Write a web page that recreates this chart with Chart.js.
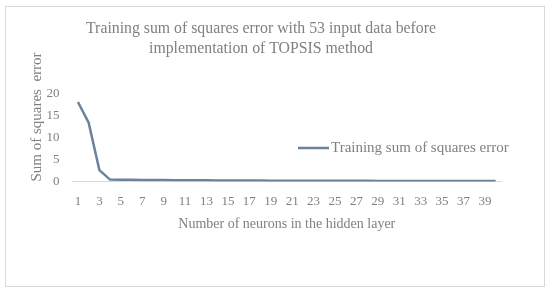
<!DOCTYPE html>
<html>
<head>
<meta charset="utf-8">
<script src="https://cdn.jsdelivr.net/npm/chart.js@4.4.1/dist/chart.umd.min.js"></script>
<style>
html,body{margin:0;padding:0;background:#fff;}
#wrap{position:relative;width:550px;height:292px;}
canvas{display:block;}
</style>
</head>
<body>
<div id="wrap"><canvas id="c" width="550" height="292"></canvas></div>
<script>
const categories = Array.from({length: 40}, (_, i) => String(i + 1));
const sseValues = [18.0, 13.3, 2.6, 0.45, 0.42, 0.40, 0.38, 0.36, 0.34, 0.32,
                   0.30, 0.29, 0.28, 0.27, 0.26, 0.25, 0.24, 0.23, 0.22, 0.21,
                   0.20, 0.20, 0.19, 0.19, 0.18, 0.18, 0.17, 0.17, 0.16, 0.16,
                   0.15, 0.15, 0.15, 0.14, 0.14, 0.14, 0.13, 0.13, 0.13, 0.12];
const yTicks = [0, 5, 10, 15, 20];
const titleLines = ['Training sum of squares error with 53 input data before', 'implementation of TOPSIS method'];
const seriesLabel = 'Training sum of squares error';

const TXT = '#808080';
const LINE = '#6c829a';
const FONT = '"Liberation Serif", "Times New Roman", serif';

const framePlugin = {
  id: 'frame',
  beforeDraw(chart) {
    const ctx = chart.ctx;
    ctx.save();
    ctx.fillStyle = '#fff';
    ctx.fillRect(0, 0, chart.width, chart.height);
    ctx.strokeStyle = '#d9d9d9';
    ctx.lineWidth = 1;
    ctx.strokeRect(5.5, 6.5, 539, 280);
    ctx.restore();
  }
};

const legendPlugin = {
  id: 'sideLegend',
  afterDraw(chart) {
    const ctx = chart.ctx;
    const ds = chart.data.datasets[0];
    const y = 148;
    ctx.save();
    ctx.strokeStyle = ds.borderColor;
    ctx.lineWidth = 2.5;
    ctx.beginPath();
    ctx.moveTo(298, y);
    ctx.lineTo(329, y);
    ctx.stroke();
    ctx.fillStyle = TXT;
    ctx.font = '15px ' + FONT;
    ctx.textBaseline = 'middle';
    ctx.textAlign = 'left';
    ctx.fillText(ds.label, 331, y);
    ctx.restore();
  }
};

new Chart(document.getElementById('c'), {
  type: 'line',
  data: {
    labels: categories,
    datasets: [{
      label: seriesLabel,
      data: sseValues,
      borderColor: LINE,
      backgroundColor: LINE,
      borderWidth: 2.5,
      pointRadius: 0,
      tension: 0,
      fill: false
    }]
  },
  options: {
    responsive: false,
    animation: false,
    devicePixelRatio: 1,
    layout: { padding: { left: 21, right: 49, top: 9, bottom: 59 } },
    plugins: {
      legend: { display: false },
      tooltip: { enabled: false },
      title: {
        display: true,
        text: titleLines,
        color: TXT,
        font: { family: FONT, size: 15.8, weight: 'normal', lineHeight: 1.27 },
        padding: { top: 10, bottom: 34 }
      }
    },
    scales: {
      x: {
        type: 'category',
        offset: true,
        grid: { display: false, drawTicks: false },
        border: { display: true, color: '#d9d9d9', width: 1 },
        ticks: {
          color: TXT,
          font: { family: FONT, size: 13 },
          autoSkip: false,
          maxRotation: 0,
          padding: 12,
          callback: function(v, i) { return i % 2 === 0 ? categories[i] : ''; }
        },
        title: {
          display: true,
          text: 'Number of neurons in the hidden layer',
          color: TXT,
          font: { family: FONT, size: 14 },
          padding: { top: -5, bottom: 0 }
        }
      },
      y: {
        min: 0,
        max: 20,
        afterBuildTicks: (s) => { s.ticks = yTicks.map(v => ({ value: v })); },
        afterFit: (s) => { s.width = 51.6; },
        grid: { display: false, drawTicks: false },
        border: { display: false },
        ticks: {
          color: TXT,
          font: { family: FONT, size: 13 },
          padding: 13
        },
        title: {
          display: true,
          text: 'Sum of squares  error',
          align: 'start',
          color: TXT,
          font: { family: FONT, size: 15 },
          padding: { top: 7, bottom: 0 }
        }
      }
    }
  },
  plugins: [framePlugin, legendPlugin]
});
</script>
</body>
</html>
